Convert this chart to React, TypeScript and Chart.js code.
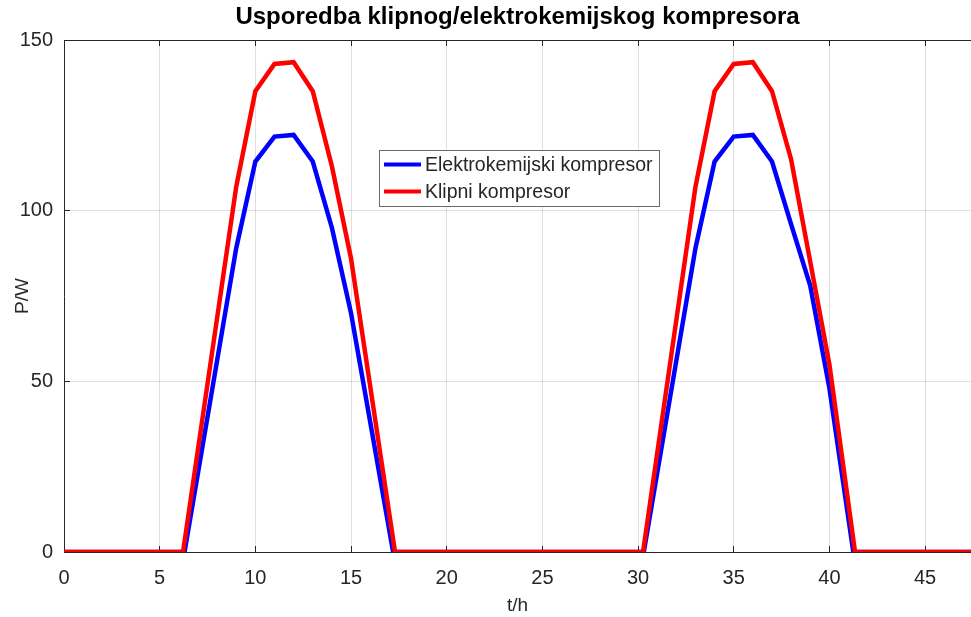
import React, { useEffect, useRef } from "react";
import { Chart, registerables } from "chart.js";

Chart.register(...registerables);

// ---- data ----
const chartTitle = "Usporedba klipnog/elektrokemijskog kompresora";
const xAxisTitle = "t/h";
const yAxisTitle = "P/W";
const seriesNames = ["Elektrokemijski kompresor", "Klipni kompresor"];

const hoursElectro = [0, 6.3, 9, 10, 11, 12, 13, 14, 15, 17.2, 30.3, 33, 34, 35, 36, 37, 38, 39, 40, 41.25, 48];
const powerElectro = [0, 0, 89, 114.4, 121.7, 122.2, 114.4, 95, 70, 0, 0, 89, 114.4, 121.7, 122.2, 114.4, 96, 78, 48, 0, 0];

const hoursPiston = [0, 6.22, 9, 10, 11, 12, 13, 14, 15, 17.3, 30.26, 33, 34, 35, 36, 37, 38, 39, 40, 41.34, 48];
const powerPiston = [0, 0, 107, 135, 143, 143.5, 135, 113, 86, 0, 0, 107, 135, 143, 143.5, 135, 115, 85, 55, 0, 0];

const xTickValues = [0, 5, 10, 15, 20, 25, 30, 35, 40, 45];
const yTickValues = [0, 50, 100, 150];
const xMin = 0;
const xMax = 47.4;
const yMin = 0;
const yMax = 150;

const FONT = "'Liberation Sans', Arial, Helvetica, sans-serif";
const AXIS_COLOR = "#262626";
const GRID_COLOR = "rgba(38,38,38,0.15)";

const boxLegend = {
  id: "boxLegend",
  afterDraw(chart: any) {
    const ctx = chart.ctx;
    const bx = 379.5, by = 150.5, bw = 280, bh = 56;
    ctx.save();
    ctx.fillStyle = "#ffffff";
    ctx.fillRect(bx, by, bw, bh);
    ctx.strokeStyle = "#6b6b6b";
    ctx.lineWidth = 1;
    ctx.strokeRect(bx, by, bw, bh);
    ctx.font = `19.5px ${FONT}`;
    ctx.textBaseline = "middle";
    ctx.textAlign = "left";
    chart.data.datasets.forEach((ds: any, i: number) => {
      const ly = 164.5 + i * 27;
      ctx.strokeStyle = ds.borderColor;
      ctx.lineWidth = 4;
      ctx.beginPath();
      ctx.moveTo(384, ly);
      ctx.lineTo(421, ly);
      ctx.stroke();
      ctx.fillStyle = AXIS_COLOR;
      ctx.fillText(ds.label, 425, ly + 1);
    });
    ctx.restore();
  },
};

export default function App() {
  const ref = useRef<HTMLCanvasElement | null>(null);

  useEffect(() => {
    if (!ref.current) return;
    Chart.defaults.font.family = FONT;
    const chart = new Chart(ref.current, {
      type: "line",
      data: {
        datasets: [
          {
            label: seriesNames[0],
            data: hoursElectro.map((h, i) => ({ x: h, y: powerElectro[i] })),
            borderColor: "#0000ff",
            backgroundColor: "#0000ff",
            borderWidth: 4.5,
            pointRadius: 0,
            tension: 0,
            order: 2,
          },
          {
            label: seriesNames[1],
            data: hoursPiston.map((h, i) => ({ x: h, y: powerPiston[i] })),
            borderColor: "#ff0000",
            backgroundColor: "#ff0000",
            borderWidth: 4.5,
            pointRadius: 0,
            tension: 0,
            order: 1,
          },
        ],
      },
      options: {
        responsive: false,
        animation: false,
        devicePixelRatio: 1,
        layout: { padding: 0 },
        plugins: {
          legend: { display: false },
          tooltip: { enabled: false },
          title: {
            display: true,
            text: chartTitle,
            fullSize: false,
            color: "#000000",
            font: { size: 24, weight: "bold", family: FONT, lineHeight: 1.2 },
            padding: { top: 3, bottom: 8.2 },
          },
        },
        scales: {
          x: {
            type: "linear",
            position: "bottom",
            min: xMin,
            max: xMax,
            afterBuildTicks: (s: any) => {
              s.ticks = xTickValues.map((v) => ({ value: v }));
            },
            afterFit: (s: any) => {
              s.height = 65;
            },
            ticks: { color: AXIS_COLOR, font: { size: 20 }, padding: 20, maxRotation: 0, autoSkip: false },
            grid: { color: GRID_COLOR, tickColor: AXIS_COLOR, tickLength: -6, lineWidth: 1 },
            border: { display: true, color: AXIS_COLOR, width: 1 },
            title: { display: true, text: xAxisTitle, color: AXIS_COLOR, font: { size: 19 }, padding: { top: 0, bottom: 0 } },
          },
          xTop: {
            type: "linear",
            position: "top",
            min: xMin,
            max: xMax,
            afterBuildTicks: (s: any) => {
              s.ticks = xTickValues.map((v) => ({ value: v }));
            },
            afterFit: (s: any) => {
              s.height = 0;
            },
            ticks: { display: false },
            grid: { drawOnChartArea: false, tickColor: AXIS_COLOR, tickLength: -6 },
            border: { display: true, color: AXIS_COLOR, width: 1 },
          },
          y: {
            type: "linear",
            position: "left",
            min: yMin,
            max: yMax,
            afterBuildTicks: (s: any) => {
              s.ticks = yTickValues.map((v) => ({ value: v }));
            },
            afterFit: (s: any) => {
              s.width = 64;
            },
            ticks: { color: AXIS_COLOR, font: { size: 20 }, padding: 17 },
            grid: { color: GRID_COLOR, tickColor: AXIS_COLOR, tickLength: -6, lineWidth: 1 },
            border: { display: true, color: AXIS_COLOR, width: 1 },
            title: { display: true, text: yAxisTitle, color: AXIS_COLOR, font: { size: 19 }, padding: { top: 11, bottom: 0 } },
          },
        },
      },
      plugins: [boxLegend],
    } as any);
    return () => chart.destroy();
  }, []);

  return (
    <div style={{ position: "fixed", left: 0, top: 0, width: 971, height: 617, background: "#ffffff" }}>
      <canvas ref={ref} width={971} height={617} style={{ display: "block" }} />
    </div>
  );
}
